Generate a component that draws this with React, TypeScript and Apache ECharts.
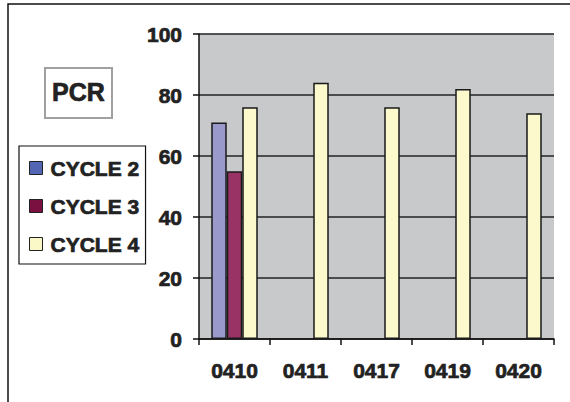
import React, { useEffect, useRef } from "react";
import * as echarts from "echarts";

const categories = ["0410", "0411", "0417", "0419", "0420"];
const seriesNames = ["CYCLE 2", "CYCLE 3", "CYCLE 4"];
const cycle2 = [71, null, null, null, null];
const cycle3 = [55, null, null, null, null];
const cycle4 = [76, 84, 76, 82, 74];
const barColors = ["#9999cc", "#993366", "#fcf9cc"];
const legendColors = ["#5266b4", "#7a1040", "#fbf8c8"];
const yTicks = { min: 0, max: 100, interval: 20 };

const FONT = "'Liberation Sans', Arial, sans-serif";
const TXT = "#222";
const thick = { textBorderColor: TXT, textBorderWidth: 0.7 };

export default function App() {
  const ref = useRef<HTMLDivElement>(null);
  useEffect(() => {
    if (!ref.current) return;
    const chart = echarts.init(ref.current, null, { renderer: "svg" });
    const values = [cycle2, cycle3, cycle4];
    chart.setOption({
      animation: false,
      backgroundColor: "#ffffff",
      textStyle: { fontFamily: FONT },
      grid: {
        left: 199,
        top: 34,
        width: 355,
        height: 305,
        show: true,
        backgroundColor: "#c8c9cb",
        borderWidth: 0,
      },
      graphic: [
        {
          type: "rect",
          shape: { x: 8, y: 4, width: 620, height: 460 },
          style: { fill: "none", stroke: "#111", lineWidth: 1.5 },
          z: 100,
        },
        {
          type: "rect",
          shape: { x: 45, y: 68, width: 67, height: 50 },
          style: { fill: "#fff", stroke: "#a0a0a0", lineWidth: 2 },
        },
        {
          type: "text",
          x: 78.5,
          y: 92,
          style: {
            text: "PCR",
            font: `bold 25px ${FONT}`,
            fill: TXT,
            stroke: TXT,
            lineWidth: 0.7,
            align: "center",
            verticalAlign: "middle",
          },
        },
      ],
      legend: {
        orient: "vertical",
        left: 19,
        top: 146,
        padding: [11, 6, 9, 10],
        borderColor: "#111",
        borderWidth: 1.2,
        backgroundColor: "#fff",
        icon: "rect",
        itemWidth: 13,
        itemHeight: 13,
        itemGap: 16,
        textStyle: {
          fontSize: 21,
          fontWeight: "bold",
          color: TXT,
          fontFamily: FONT,
          lineHeight: 22,
          padding: [0, 0, 0, 3],
          ...thick,
        },
        data: seriesNames.map((n, i) => ({
          name: n,
          itemStyle: { color: legendColors[i], borderColor: "#222", borderWidth: 1 },
        })),
      },
      xAxis: {
        type: "category",
        data: categories,
        boundaryGap: true,
        axisLine: { show: true, lineStyle: { color: "#111", width: 1.5 } },
        axisTick: { show: true, length: 6, lineStyle: { color: "#111", width: 1.5 } },
        axisLabel: {
          fontSize: 21,
          fontWeight: "bold",
          color: TXT,
          margin: 21,
          fontFamily: FONT,
          ...thick,
        },
      },
      yAxis: {
        type: "value",
        min: yTicks.min,
        max: yTicks.max,
        interval: yTicks.interval,
        axisLine: { show: true, lineStyle: { color: "#111", width: 1.5 } },
        axisTick: { show: true, length: 6, lineStyle: { color: "#111", width: 1.5 } },
        splitLine: { show: true, lineStyle: { color: "#222", width: 1.5 } },
        axisLabel: {
          fontSize: 21,
          fontWeight: "bold",
          color: TXT,
          margin: 17,
          fontFamily: FONT,
          ...thick,
        },
      },
      series: seriesNames.map((n, i) => ({
        name: n,
        type: "bar",
        data: values[i],
        barWidth: 15.5,
        barGap: "0%",
        itemStyle: { color: barColors[i], borderColor: "#1a1a1a", borderWidth: 1.5 },
      })),
    });
    return () => chart.dispose();
  }, []);
  return (
    <div
      ref={ref}
      style={{ position: "fixed", left: 0, top: 0, width: 570, height: 402 }}
    />
  );
}
